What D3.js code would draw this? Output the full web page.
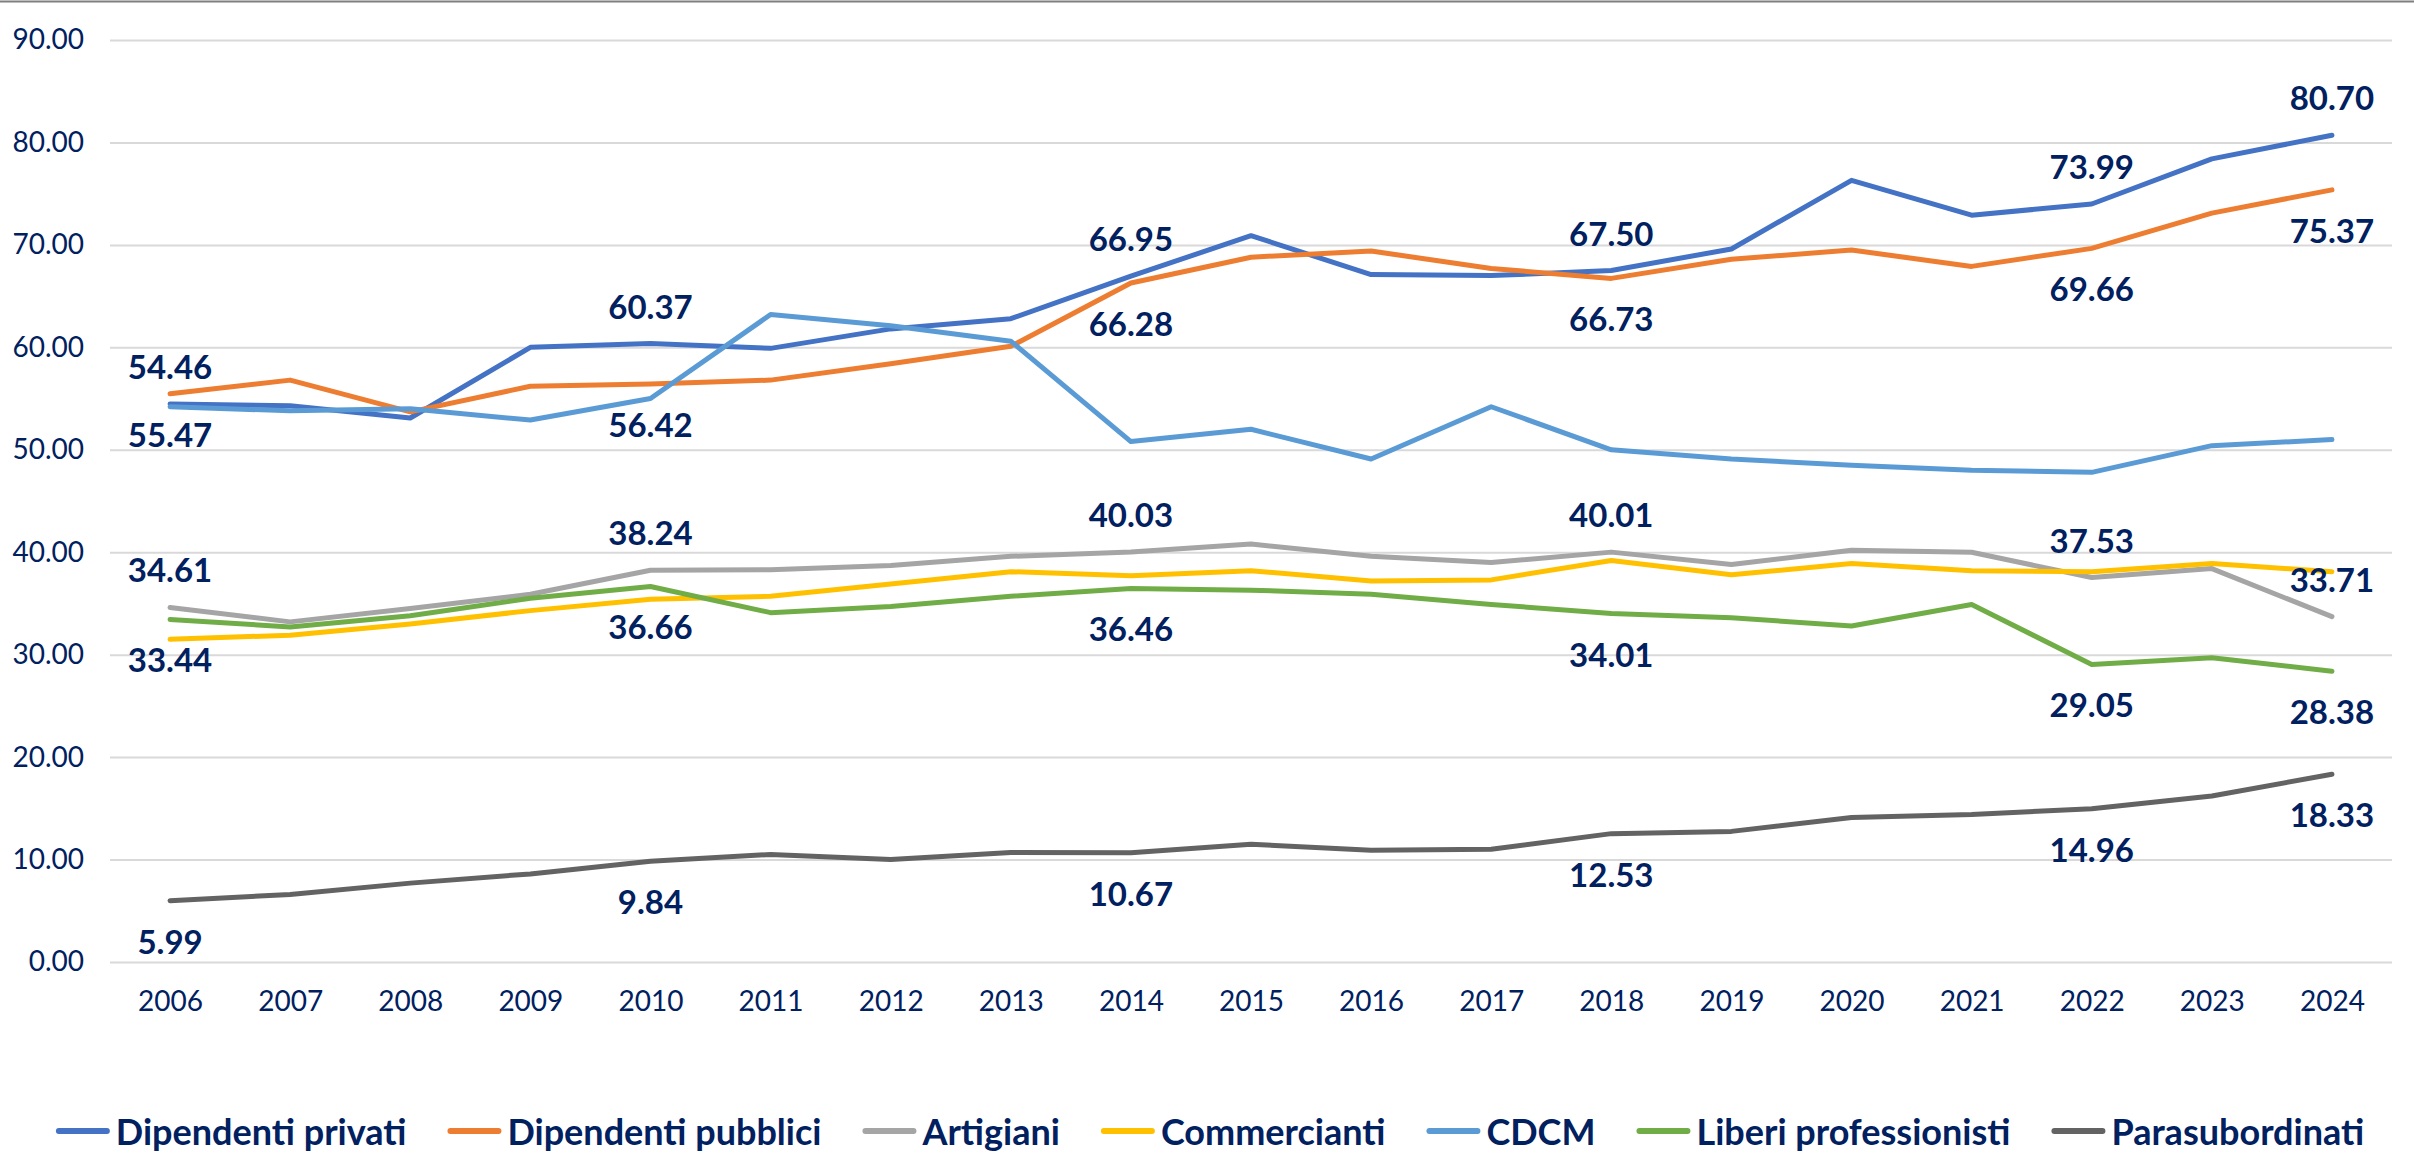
<!DOCTYPE html>
<head>
    <meta charset="utf-8">
    <title>Serie storiche</title>
</head>

<script src="https://d3js.org/d3.v7.min.js"></script>

<div id="graph"></div>

<script>
    // anni sull'asse x
    var years = [2006, 2007, 2008, 2009, 2010, 2011, 2012, 2013, 2014, 2015,
                 2016, 2017, 2018, 2019, 2020, 2021, 2022, 2023, 2024];

    // valori delle serie
    var dipPrivati   = [54.46, 54.3, 53.1, 60.0, 60.37, 59.9, 61.8, 62.8, 66.95, 70.9, 67.1, 67.0, 67.50, 69.6, 76.3, 72.9, 73.99, 78.4, 80.70];
    var dipPubblici  = [55.47, 56.8, 53.7, 56.2, 56.42, 56.8, 58.4, 60.1, 66.28, 68.8, 69.4, 67.7, 66.73, 68.6, 69.5, 67.9, 69.66, 73.1, 75.37];
    var artigiani    = [34.61, 33.2, 34.5, 35.9, 38.24, 38.3, 38.7, 39.6, 40.03, 40.8, 39.6, 39.0, 40.01, 38.8, 40.2, 40.0, 37.53, 38.4, 33.71];
    var commercianti = [31.5, 31.9, 33.0, 34.3, 35.4, 35.7, 36.9, 38.1, 37.7, 38.2, 37.2, 37.3, 39.2, 37.8, 38.9, 38.2, 38.1, 38.9, 38.1];
    var cdcm         = [54.2, 53.8, 54.0, 52.9, 55.0, 63.2, 62.1, 60.6, 50.8, 52.0, 49.1, 54.2, 50.0, 49.1, 48.5, 48.0, 47.8, 50.4, 51.0];
    var liberiProf   = [33.44, 32.7, 33.8, 35.5, 36.66, 34.1, 34.7, 35.7, 36.46, 36.3, 35.9, 34.9, 34.01, 33.6, 32.8, 34.9, 29.05, 29.7, 28.38];
    var parasub      = [5.99, 6.6, 7.7, 8.6, 9.84, 10.5, 10.0, 10.7, 10.67, 11.5, 10.9, 11.0, 12.53, 12.75, 14.1, 14.4, 14.96, 16.2, 18.33];

    var seriesNames  = ["Dipendenti privati", "Dipendenti pubblici", "Artigiani", "Commercianti", "CDCM", "Liberi professionisti", "Parasubordinati"];
    var seriesValues = [dipPrivati, dipPubblici, artigiani, commercianti, cdcm, liberiProf, parasub];
    var seriesColors = ["#4472C4", "#ED7D31", "#A5A5A5", "#FFC000", "#5B9BD5", "#70AD47", "#636363"];

    // anni con etichetta e posizione dell'etichetta per serie
    var labelYears = [2006, 2010, 2014, 2018, 2022, 2024];
    var labelPos   = ["above", "below", "above", null, null, "below", "below"];

    var yTicks = [0, 10, 20, 30, 40, 50, 60, 70, 80, 90];

    var textColor = "#002060";

    //Set size of graph
    var margin = {top: 40, right: 22, bottom: 191, left: 110},
        width = 2414 - margin.left - margin.right,
        height = 1153 - margin.top - margin.bottom;

    var root = d3.select("#graph")
        .append("svg")
            .attr("width", 2414)
            .attr("height", 1153);

    // linea grigia in alto
    root.append("line")
        .attr("x1", 0).attr("x2", 2414)
        .attr("y1", 1.5).attr("y2", 1.5)
        .attr("stroke", "#7f7f7f")
        .attr("stroke-width", 2);

    var svg = root.append("g")
        .attr("transform", "translate(" + margin.left + "," + margin.top + ")");

    var x = d3.scalePoint()
        .domain(years)
        .range([0, width])
        .padding(0.5);

    var y = d3.scaleLinear()
        .domain([0, 90])
        .range([height, 0]);

    // asse y con griglia
    var yAxis = d3.axisLeft(y)
        .tickValues(yTicks)
        .tickFormat(d3.format(".2f"))
        .tickSize(-width)
        .tickPadding(26);

    var yGroup = svg.append("g").call(yAxis);
    yGroup.select(".domain").remove();
    yGroup.selectAll(".tick line").attr("stroke", "#D9D9D9").attr("stroke-width", 2);
    yGroup.selectAll(".tick text")
        .attr("fill", textColor)
        .style("font-family", "Lato")
        .style("font-size", "28px");

    // asse x
    var xAxis = d3.axisBottom(x)
        .tickSize(0)
        .tickPadding(29);

    var xGroup = svg.append("g")
        .attr("transform", "translate(0," + height + ")")
        .call(xAxis);
    xGroup.select(".domain").remove();
    xGroup.selectAll("text")
        .attr("fill", textColor)
        .style("font-family", "Lato")
        .style("font-size", "28px");

    var line = d3.line()
        .x(function(d, i) { return x(years[i]); })
        .y(function(d) { return y(d); });

    seriesValues.forEach(function(vals, s) {
        svg.append("path")
            .datum(vals)
            .attr("fill", "none")
            .attr("stroke", seriesColors[s])
            .attr("stroke-width", 5)
            .attr("stroke-linejoin", "round")
            .attr("stroke-linecap", "round")
            .attr("d", line);
    });

    // etichette dei valori
    seriesValues.forEach(function(vals, s) {
        if (!labelPos[s]) return;
        var pts = labelYears.map(function(yr) { return {year: yr, value: vals[years.indexOf(yr)]}; });
        svg.selectAll(".lbl" + s)
            .data(pts)
            .enter()
            .append("text")
                .attr("class", "lbl" + s)
                .attr("x", function(d) { return x(d.year); })
                .attr("y", function(d) { return y(d.value) + (labelPos[s] == "above" ? -38 : 40); })
                .attr("text-anchor", "middle")
                .attr("dominant-baseline", "central")
                .attr("fill", textColor)
                .style("font-family", "Lato")
                .style("font-weight", "bold")
                .style("font-size", "33px")
                .text(function(d) { return d.value.toFixed(2); });
    });

    // legenda
    var legend = root.append("g").attr("transform", "translate(0,1131)");
    var items = legend.selectAll(".item")
        .data(seriesNames)
        .enter()
        .append("g")
            .attr("class", "item");

    items.append("line")
        .attr("x1", 3).attr("x2", 51)
        .attr("y1", 0).attr("y2", 0)
        .attr("stroke", function(d, i) { return seriesColors[i]; })
        .attr("stroke-width", 6)
        .attr("stroke-linecap", "round");

    items.append("text")
        .attr("x", 60)
        .attr("y", 0)
        .attr("dominant-baseline", "central")
        .attr("fill", textColor)
        .style("font-family", "Lato")
        .style("font-weight", "bold")
        .style("font-size", "36px")
        .text(function(d) { return d; });

    var gap = 41, offs = [], total = 0;
    items.each(function(d, i) {
        var w = 60 + this.querySelector("text").getComputedTextLength();
        offs.push(total);
        total += w + (i < seriesNames.length - 1 ? gap : 0);
    });
    var startX = 1210 - total / 2;
    items.attr("transform", function(d, i) { return "translate(" + (startX + offs[i]) + ",0)"; });
</script>

<style>
    html, body {
        margin: 0;
        padding: 0;
        background-color: white;
        overflow: hidden;
    }
</style>
